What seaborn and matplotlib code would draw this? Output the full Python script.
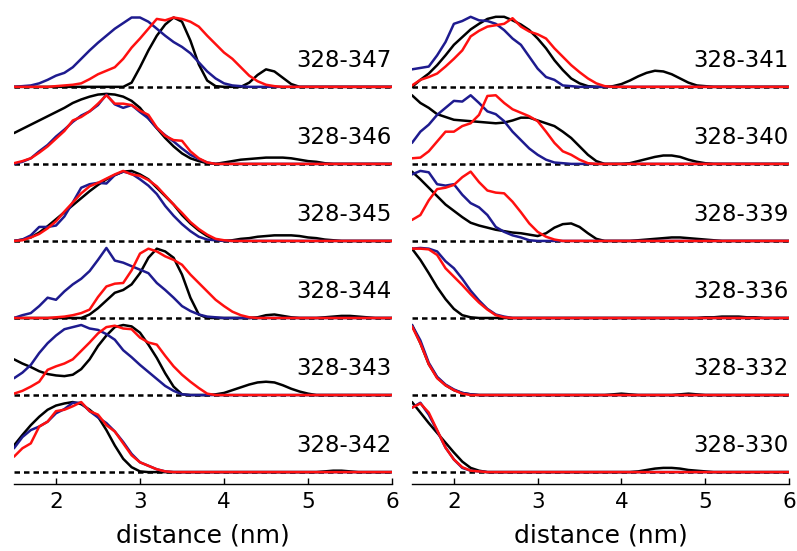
import numpy as np
import matplotlib
matplotlib.use("Agg")
import matplotlib.pyplot as plt
import seaborn as sns

# Distance grid (nm) shared by every distribution
distance = np.round(np.linspace(1.5, 6.0, 46), 2)

# Distance distributions, peak-normalised to 100, sampled every 0.1 nm from 1.5 to 6.0
# black = fitted model, blue / red = two simulation sets
black_347 = [0, 0, 0, 0, 0,
             0, 0, 0, 0, 0, 0, 0, 0, 0, 6,
             28, 52, 73, 89, 99, 93, 66, 32, 9, 1,
             0, 0, 0, 6, 17, 25, 22, 13, 4, 0,
             0, 0, 0, 0, 0, 0, 0, 0, 0, 0, 0]
blue_347 = [0, 1, 2, 5, 10,
            16, 20, 28, 40, 52, 63, 73, 83, 91, 99,
            99, 93, 83, 73, 64, 57, 48, 35, 22, 12,
            5, 2, 1, 0, 0, 0, 0, 0, 0, 0,
            0, 0, 0, 0, 0, 0, 0, 0, 0, 0, 0]
red_347 = [0, 0, 0, 0, 0,
           1, 2, 3, 5, 11, 18, 23, 28, 40, 56,
           69, 83, 97, 95, 99, 97, 93, 86, 73, 61,
           49, 40, 28, 16, 8, 3, 1, 0, 0, 0,
           0, 0, 0, 0, 0, 0, 0, 0, 0, 0, 0]

black_346 = [44, 50, 56, 62, 68,
             74, 80, 87, 92, 96, 99, 100, 99, 96, 90,
             80, 65, 51, 37, 25, 15, 8, 4, 1, 0,
             2, 4, 6, 7, 8, 9, 9, 9, 8, 6,
             4, 3, 1, 0, 0, 0, 0, 0, 0, 0, 0]
blue_346 = [0, 3, 8, 18, 27,
            39, 49, 60, 69, 75, 84, 99, 85, 80, 84,
            74, 65, 51, 41, 32, 22, 13, 7, 2, 0,
            0, 0, 0, 0, 0, 0, 0, 0, 0, 0,
            0, 0, 0, 0, 0, 0, 0, 0, 0, 0, 0]
red_346 = [1, 4, 8, 16, 25,
           36, 47, 62, 67, 75, 86, 98, 86, 86, 84,
           76, 70, 52, 40, 34, 33, 18, 8, 2, 0,
           0, 0, 0, 0, 0, 0, 0, 0, 0, 0,
           0, 0, 0, 0, 0, 0, 0, 0, 0, 0, 0]

black_345 = [0, 2, 5, 12, 21,
             31, 41, 51, 61, 71, 80, 88, 94, 99, 100,
             95, 88, 76, 64, 52, 37, 25, 15, 7, 2,
             0, 1, 3, 4, 6, 7, 8, 8, 8, 7,
             5, 4, 2, 1, 0, 0, 0, 0, 0, 0, 0]
blue_345 = [0, 2, 8, 20, 20,
            22, 35, 55, 76, 81, 83, 82, 94, 99, 96,
            88, 79, 67, 50, 36, 24, 14, 6, 2, 1,
            0, 0, 0, 0, 0, 0, 0, 0, 0, 0,
            0, 0, 0, 0, 0, 0, 0, 0, 0, 0, 0]
red_345 = [0, 1, 5, 10, 18,
           28, 42, 55, 68, 78, 83, 89, 95, 100, 95,
           93, 87, 78, 65, 52, 40, 27, 17, 9, 3,
           1, 0, 0, 0, 0, 0, 0, 0, 0, 0,
           0, 0, 0, 0, 0, 0, 0, 0, 0, 0, 0]

black_344 = [0, 0, 0, 0, 0,
             0, 0, 0, 0, 5, 14, 25, 36, 40, 48,
             64, 86, 99, 95, 86, 62, 29, 5, 0, 0,
             0, 0, 0, 0, 1, 4, 5, 3, 1, 0,
             0, 0, 1, 2, 3, 3, 2, 1, 0, 0, 0]
blue_344 = [0, 4, 7, 17, 29,
            26, 38, 48, 56, 67, 83, 100, 82, 79, 74,
            69, 64, 50, 40, 29, 17, 10, 5, 2, 1,
            0, 0, 0, 0, 0, 0, 0, 0, 0, 0,
            0, 0, 0, 0, 0, 0, 0, 0, 0, 0, 0]
red_344 = [0, 0, 0, 0, 0,
           1, 2, 4, 7, 12, 30, 45, 49, 50, 68,
           92, 99, 95, 88, 83, 76, 62, 50, 38, 26,
           17, 9, 4, 1, 0, 0, 0, 0, 0, 0,
           0, 0, 0, 0, 0, 0, 0, 0, 0, 0, 0]

black_343 = [51, 45, 40, 34, 30,
             28, 27, 29, 37, 51, 70, 85, 97, 100, 98,
             89, 72, 53, 31, 12, 1, 0, 0, 0, 1,
             3, 7, 11, 15, 18, 19, 18, 14, 9, 5,
             2, 0, 0, 0, 0, 0, 0, 0, 0, 0, 0]
blue_343 = [24, 32, 43, 60, 74,
            85, 94, 97, 100, 95, 93, 87, 79, 64, 54,
            43, 33, 23, 13, 6, 1, 0, 0, 0, 0,
            0, 0, 0, 0, 0, 0, 0, 0, 0, 0,
            0, 0, 0, 0, 0, 0, 0, 0, 0, 0, 0]
red_343 = [2, 6, 12, 19, 36,
           41, 45, 51, 63, 75, 88, 97, 99, 95, 94,
           82, 75, 72, 56, 41, 29, 19, 10, 2, 0,
           0, 0, 0, 0, 0, 0, 0, 0, 0, 0,
           0, 0, 0, 0, 0, 0, 0, 0, 0, 0, 0]

black_342 = [38, 53, 67, 79, 89,
             95, 98, 100, 97, 89, 79, 60, 38, 19, 7,
             1, 0, 0, 0, 0, 0, 0, 0, 0, 0,
             0, 0, 0, 0, 0, 0, 0, 0, 0, 0,
             0, 0, 1, 2, 2, 1, 0, 0, 0, 0, 0]
blue_342 = [34, 50, 60, 65, 72,
            84, 90, 99, 99, 87, 78, 70, 58, 43, 26,
            14, 9, 4, 1, 0, 0, 0, 0, 0, 0,
            0, 0, 0, 0, 0, 0, 0, 0, 0, 0,
            0, 0, 0, 0, 0, 0, 0, 0, 0, 0, 0]
red_342 = [22, 34, 41, 65, 72,
           87, 89, 94, 100, 87, 82, 67, 58, 41, 24,
           14, 9, 4, 1, 0, 0, 0, 0, 0, 0,
           0, 0, 0, 0, 0, 0, 0, 0, 0, 0,
           0, 0, 0, 0, 0, 0, 0, 0, 0, 0, 0]

black_341 = [0, 10, 19, 31, 45,
             60, 71, 82, 90, 97, 100, 100, 95, 89, 81,
             69, 55, 38, 24, 12, 5, 1, 0, 0, 1,
             4, 9, 15, 20, 23, 22, 18, 12, 6, 2,
             1, 0, 0, 0, 0, 0, 0, 0, 0, 0, 0]
blue_341 = [25, 27, 29, 45, 64,
            90, 94, 100, 95, 94, 90, 81, 69, 60, 43,
            26, 14, 10, 2, 1, 0, 0, 0, 0, 0,
            0, 0, 0, 0, 0, 0, 0, 0, 0, 0,
            0, 0, 0, 0, 0, 0, 0, 0, 0, 0, 0]
red_341 = [2, 10, 14, 19, 29,
           40, 52, 72, 80, 86, 88, 90, 98, 86, 79,
           75, 69, 55, 43, 31, 21, 12, 5, 1, 0,
           0, 0, 0, 0, 0, 0, 0, 0, 0, 0,
           0, 0, 0, 0, 0, 0, 0, 0, 0, 0, 0]

black_340 = [98, 87, 80, 71, 67,
             63, 62, 61, 60, 59, 58, 59, 62, 66, 66,
             62, 58, 54, 46, 37, 25, 13, 4, 0, 0,
             0, 1, 4, 7, 10, 12, 12, 10, 6, 3,
             1, 0, 0, 0, 0, 0, 0, 0, 0, 0, 0]
blue_340 = [30, 46, 56, 70, 80,
            90, 89, 98, 87, 75, 71, 61, 46, 34, 22,
            13, 6, 2, 1, 0, 0, 0, 0, 0, 0,
            0, 0, 0, 0, 0, 0, 0, 0, 0, 0,
            0, 0, 0, 0, 0, 0, 0, 0, 0, 0, 0]
red_340 = [8, 9, 18, 32, 46,
           46, 54, 58, 70, 97, 98, 87, 78, 73, 68,
           61, 46, 30, 18, 13, 6, 1, 0, 0, 0,
           0, 0, 0, 0, 0, 0, 0, 0, 0, 0,
           0, 0, 0, 0, 0, 0, 0, 0, 0, 0, 0]

black_339 = [99, 88, 76, 64, 52,
             43, 34, 26, 22, 19, 16, 14, 12, 11, 9,
             7, 11, 19, 24, 25, 20, 11, 3, 0, 0,
             0, 0, 1, 2, 3, 4, 5, 5, 4, 3,
             2, 1, 0, 0, 0, 0, 0, 0, 0, 0, 0]
blue_339 = [95, 100, 98, 81, 79,
            81, 66, 54, 48, 37, 20, 13, 8, 5, 1,
            0, 0, 0, 0, 0, 0, 0, 0, 0, 0,
            0, 0, 0, 0, 0, 0, 0, 0, 0, 0,
            0, 0, 0, 0, 0, 0, 0, 0, 0, 0, 0]
red_339 = [30, 37, 58, 74, 76,
           80, 91, 99, 84, 72, 69, 68, 56, 41, 25,
           13, 6, 2, 0, 0, 0, 0, 0, 0, 0,
           0, 0, 0, 0, 0, 0, 0, 0, 0, 0,
           0, 0, 0, 0, 0, 0, 0, 0, 0, 0, 0]

black_336 = [99, 83, 64, 44, 27,
             13, 4, 1, 0, 0, 0, 0, 0, 0, 0,
             0, 0, 0, 0, 0, 0, 0, 0, 0, 0,
             0, 0, 0, 0, 0, 0, 0, 0, 0, 0,
             1, 1, 2, 2, 2, 1, 1, 0, 0, 0, 0]
blue_336 = [99, 100, 99, 95, 81,
            71, 56, 39, 25, 13, 5, 2, 0, 0, 0,
            0, 0, 0, 0, 0, 0, 0, 0, 0, 0,
            0, 0, 0, 0, 0, 0, 0, 0, 0, 0,
            0, 0, 0, 0, 0, 0, 0, 0, 0, 0, 0]
red_336 = [99, 99, 98, 90, 71,
           59, 47, 34, 22, 12, 4, 1, 0, 0, 0,
           0, 0, 0, 0, 0, 0, 0, 0, 0, 0,
           0, 0, 0, 0, 0, 0, 0, 0, 0, 0,
           0, 0, 0, 0, 0, 0, 0, 0, 0, 0, 0]

black_332 = [100, 74, 44, 25, 14,
             7, 3, 1, 0, 0, 0, 0, 0, 0, 0,
             0, 0, 0, 0, 0, 0, 0, 0, 0, 1,
             2, 1, 0, 0, 0, 0, 0, 1, 2, 1,
             0, 0, 0, 0, 0, 0, 0, 0, 0, 0, 0]
blue_332 = [100, 78, 46, 26, 15,
            8, 3, 1, 0, 0, 0, 0, 0, 0, 0,
            0, 0, 0, 0, 0, 0, 0, 0, 0, 0,
            0, 0, 0, 0, 0, 0, 0, 0, 0, 0,
            0, 0, 0, 0, 0, 0, 0, 0, 0, 0, 0]
red_332 = [98, 74, 44, 24, 14,
           7, 2, 0, 0, 0, 0, 0, 0, 0, 0,
           0, 0, 0, 0, 0, 0, 0, 0, 0, 0,
           0, 0, 0, 0, 0, 0, 0, 0, 0, 0,
           0, 0, 0, 0, 0, 0, 0, 0, 0, 0, 0]

black_330 = [100, 85, 70, 56, 42,
             28, 15, 6, 2, 0, 0, 0, 0, 0, 0,
             0, 0, 0, 0, 0, 0, 0, 0, 0, 0,
             0, 0, 1, 3, 5, 6, 6, 5, 3, 2,
             1, 0, 0, 0, 0, 0, 0, 0, 0, 0, 0]
blue_330 = [92, 99, 82, 59, 35,
            18, 6, 2, 1, 0, 0, 0, 0, 0, 0,
            0, 0, 0, 0, 0, 0, 0, 0, 0, 0,
            0, 0, 0, 0, 0, 0, 0, 0, 0, 0,
            0, 0, 0, 0, 0, 0, 0, 0, 0, 0, 0]
red_330 = [92, 98, 85, 60, 35,
           18, 7, 2, 1, 0, 0, 0, 0, 0, 0,
           0, 0, 0, 0, 0, 0, 0, 0, 0, 0,
           0, 0, 0, 0, 0, 0, 0, 0, 0, 0,
           0, 0, 0, 0, 0, 0, 0, 0, 0, 0, 0]

# Panel labels, top to bottom
left_labels = ["328-347", "328-346", "328-345", "328-344", "328-343", "328-342"]
right_labels = ["328-341", "328-340", "328-339", "328-336", "328-332", "328-330"]

left_panels = [
    (black_347, blue_347, red_347),
    (black_346, blue_346, red_346),
    (black_345, blue_345, red_345),
    (black_344, blue_344, red_344),
    (black_343, blue_343, red_343),
    (black_342, blue_342, red_342),
]
right_panels = [
    (black_341, blue_341, red_341),
    (black_340, blue_340, red_340),
    (black_339, blue_339, red_339),
    (black_336, blue_336, red_336),
    (black_332, blue_332, red_332),
    (black_330, blue_330, red_330),
]

xticks = [2, 3, 4, 5, 6]

NAVY = "#1e1b8f"
RED = "#ff1010"
LW = 1.8
STEP = 1.1  # vertical spacing between stacked panels

sns.set_theme(style="white")
plt.rcParams["font.family"] = ["DejaVu Sans"]

W, H = 797, 551
fig = plt.figure(figsize=(W / 100, H / 100), dpi=100)
ax_left = fig.add_axes([14 / W, 67 / H, 378 / W, 484 / H])
ax_right = fig.add_axes([412 / W, 67 / H, 377 / W, 484 / H])


def draw_column(ax, labels, panels):
    n = len(panels)
    for i, (label, (k, b, r)) in enumerate(zip(labels, panels)):
        offset = (n - 1 - i) * STEP
        ax.axhline(offset, color="black", lw=LW, ls=(0, (2.2, 1.6)), zorder=1)
        for vals, color in ((k, "black"), (b, NAVY), (r, RED)):
            if len(vals) != len(distance):
                raise ValueError(f"{label}: expected {len(distance)} values")
            sns.lineplot(x=distance, y=np.asarray(vals) / 100.0 + offset,
                         color=color, lw=LW, ax=ax, legend=False, zorder=2)
        ax.text(6.0, offset + 0.28, label, ha="right", va="baseline",
                fontsize=16.5, color="black")

    ax.set_xlim(1.5, 6.0)
    ax.set_ylim(-0.17, 6.74)
    ax.set_xticks(xticks)
    ax.set_xticklabels([str(t) for t in xticks])
    ax.set_yticks([])
    ax.set_ylabel("")
    sns.despine(ax=ax, left=True, top=True, right=True)
    ax.spines["bottom"].set_color("black")
    ax.spines["bottom"].set_linewidth(1.0)
    ax.tick_params(axis="x", bottom=True, direction="in", length=4, width=1,
                   labelsize=15.5, pad=6, colors="black")
    ax.set_xlabel("distance (nm)", fontsize=18, labelpad=8, color="black")
    ax.patch.set_alpha(0)


draw_column(ax_left, left_labels, left_panels)
draw_column(ax_right, right_labels, right_panels)

fig.savefig("out.png", dpi=100)
